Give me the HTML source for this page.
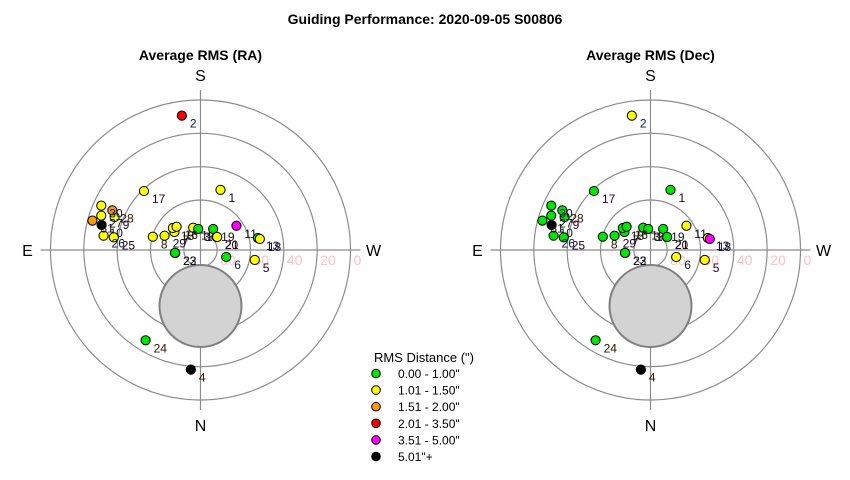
<!DOCTYPE html>
<html><head><meta charset="utf-8"><style>
body{margin:0;background:#fff;}
svg{display:block;font-family:"Liberation Sans",Arial,sans-serif;}
</style></head><body>
<svg id="chart" width="850" height="480" viewBox="0 0 850 480">
<text x="425" y="24" text-anchor="middle" font-size="14" font-weight="bold">Guiding Performance: 2020-09-05 S00806</text>
<g id="plots"></g>
<g>
<text x="374" y="362" font-size="13">RMS Distance (")</text>
<g id="legend"></g>
</g>
</svg>
<script>
const pointLabels=[1,2,3,4,5,6,7,8,9,10,11,12,13,14,15,16,17,18,19,20,21,22,23,24,25,26,27,28,29,30,31];
const azimuth=[198.4,172.1,166.6,4.6,280.4,285.3,124.7,105.6,111,104.2,236,161.8,258.2,173.7,128.5,134.2,136.2,259.5,211.1,231.5,232,83.2,83.5,31.3,98.3,98.4,109.1,114.2,111.7,114.1,105.2];
const altitude=[52,8.6,77,18,56.9,74,71,60.3,34.8,28.8,64,75.9,54.8,77.3,68.8,70,41,53.8,75.3,77.5,77.3,74.7,74.6,26.6,37.4,31.2,27,32,66.8,24.8,22.8];
const rmsRA=[1.2,2.6,0.7,6.0,1.2,0.7,1.2,1.2,1.2,6.0,4.0,1.2,0.7,0.7,1.2,1.2,1.2,1.2,0.7,1.2,1.2,0.7,0.7,0.7,1.2,1.2,1.2,1.8,1.2,1.2,1.8];
const rmsDec=[0.7,1.2,0.7,6.0,1.2,1.2,0.7,0.7,0.7,6.0,1.2,0.7,1.2,0.7,0.7,0.7,0.7,4.0,0.7,0.7,0.7,0.7,0.7,0.7,0.7,0.7,0.7,0.7,0.7,0.7,0.7];
const binLabels=['0.00 - 1.00"','1.01 - 1.50"','1.51 - 2.00"','2.01 - 3.50"','3.51 - 5.00"','5.01"+'];
const binUpper=[1.0,1.5,2.0,3.5,5.0,Infinity];
const binColors=['#00e600','#ffff00','#ff9900','#ff0000','#ff00ff','#000000'];
const ringAlts=[0,20,40,60,80];

const NS='http://www.w3.org/2000/svg';
function mk(tag,attrs,parent){const e=document.createElementNS(NS,tag);for(const k in attrs)e.setAttribute(k,attrs[k]);parent.appendChild(e);return e;}
const R=150;
function rOf(alt){return (90-alt)/90*R;}
function pos(cx,cy,az,alt){const r=rOf(alt),a=az*Math.PI/180;return [cx-r*Math.sin(a),cy+r*Math.cos(a)];}
function colorOf(v){for(let i=0;i<binUpper.length;i++)if(v<=binUpper[i])return binColors[i];return binColors[5];}
const labelColors=['#200028','#0a1838','#111111','#2a1400'];

function drawPlot(cx,cy,title,vals,name){
  const g=mk('g',{},document.getElementById('plots'));
  
  
  const t=mk('text',{x:cx,y:60,'text-anchor':'middle','font-size':14,'font-weight':'bold'},g);t.textContent=title;
  
  
  ringAlts.forEach(a=>{
    const c=mk('circle',{cx:cx,cy:cy,r:rOf(a),fill:'none',stroke:'#8c8c8c','stroke-width':1.2},g);
    
    
  });
  const l1=mk('line',{x1:cx-160,y1:cy,x2:cx+160,y2:cy,stroke:'#8c8c8c','stroke-width':1.2},g);
  
  
  const l2=mk('line',{x1:cx,y1:cy-160,x2:cx,y2:cy+160,stroke:'#8c8c8c','stroke-width':1.2},g);
  
  
  ringAlts.forEach(a=>{
    const tx=mk('text',{x:cx+rOf(a)+3,y:cy+15,'font-size':14,fill:'#ffc0c0'},g);tx.textContent=a;
    
    
  });
  [['S',cx,cy-169],['N',cx,cy+181],['E',cx-173,cy+6],['W',cx+173,cy+6]].forEach(d=>{
    const tx=mk('text',{x:d[1],y:d[2],'text-anchor':'middle','font-size':16},g);tx.textContent=d[0];
    
    
  });
  const pole=mk('circle',{cx:cx,cy:cy+56,r:41,fill:'#d3d3d3',stroke:'#808080','stroke-width':2},g);
  
  
  for(let i=0;i<azimuth.length;i++){
    const p=pos(cx,cy,azimuth[i],altitude[i]);
    const c=mk('circle',{cx:p[0],cy:p[1],r:4.6,fill:colorOf(vals[i]),stroke:'#000','stroke-width':1},g);
    
    
    const tx=mk('text',{x:p[0]+8,y:p[1]+12,'font-size':12,fill:labelColors[i%4]},g);tx.textContent=pointLabels[i];
    
    
  }
}
drawPlot(200.5,250,'Average RMS (RA)',rmsRA,'ra-polar-plot');
drawPlot(650.5,250,'Average RMS (Dec)',rmsDec,'dec-polar-plot');

const lg=document.getElementById('legend');
binLabels.forEach((lab,i)=>{
  const y=373.5+i*16.6;
  const c=mk('circle',{cx:376,cy:y,r:4.3,fill:binColors[i],stroke:'#000','stroke-width':1},lg);
  
  
  const t=mk('text',{x:398,y:y+4.5,'font-size':12},lg);t.textContent=lab;
  
  
});
</script>
</body></html>
